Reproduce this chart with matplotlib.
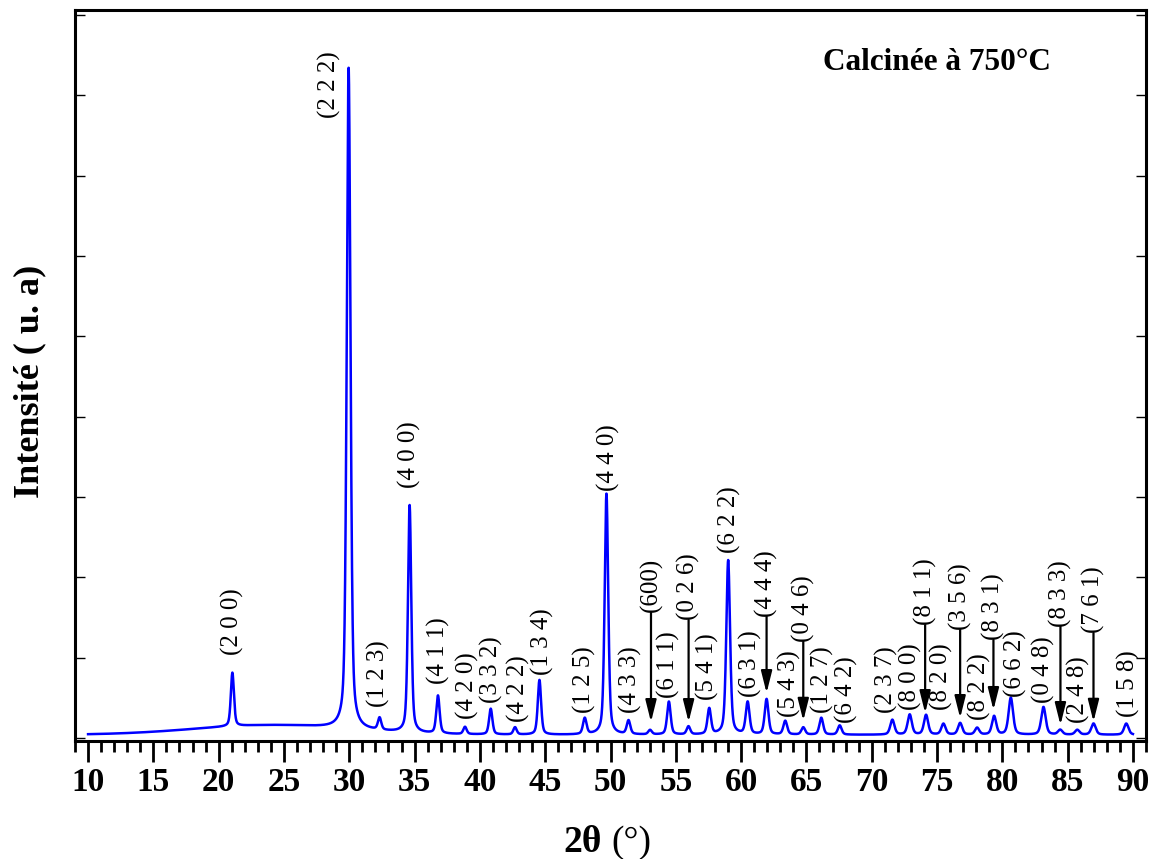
import numpy as np
import matplotlib
matplotlib.use("Agg")
import matplotlib.pyplot as plt
from matplotlib.ticker import MultipleLocator

# ---------------- data ----------------
# Bragg peaks: position (2theta, deg), net intensity (counts), FWHM (deg)
peak_pos = [21.05, 29.95, 32.32, 34.62, 36.79, 38.86, 40.83, 42.69, 44.56,
            48.03, 49.69, 51.38, 53.03, 54.47, 55.97, 57.56, 59.01, 60.50,
            61.95, 63.38, 64.76, 66.14, 67.55, 71.58, 72.91, 74.16, 75.49,
            76.77, 78.07, 79.37, 80.65, 83.15, 84.43, 85.74, 86.98, 89.49]
peak_int = [667, 8230, 150, 2830, 470, 90, 320, 90, 680,
            200, 3000, 170, 55, 410, 100, 320, 2170, 400,
            440, 170, 90, 210, 115, 185, 250, 245, 135,
            145, 85, 230, 460, 345, 60, 60, 140, 140]
peak_fwhm = [0.28, 0.34, 0.30, 0.30, 0.30, 0.30, 0.30, 0.30, 0.30,
             0.32, 0.32, 0.32, 0.32, 0.32, 0.32, 0.32, 0.34, 0.34,
             0.34, 0.34, 0.34, 0.34, 0.34, 0.38, 0.38, 0.38, 0.38,
             0.38, 0.38, 0.38, 0.40, 0.40, 0.40, 0.40, 0.40, 0.40]
# background: flat level + broad amorphous hump (center, height, width)
bg_level = 40
hump_center, hump_height, hump_width = 24.0, 120, 14.0

# Miller-index annotations: label, x (2theta), text-bottom intensity, arrow tip (None = no arrow)
hkl_labels = ["(2 0 0)", "(2 2 2)", "(1 2 3)", "(4 0 0)", "(4 1 1)", "(4 2 0)", "(3 3 2)",
              "(4 2 2)", "(1 3 4)", "(1 2 5)", "(4 4 0)", "(4 3 3)", "(600)", "(6 1 1)",
              "(0 2 6)", "(5 4 1)", "(6 2 2)", "(6 3 1)", "(4 4 4)", "(5 4 3)", "(0 4 6)",
              "(1 2 7)", "(6 4 2)", "(2 3 7)", "(8 0 0)", "(8 1 1)", "(8 2 0)", "(3 5 6)",
              "(8 2 2)", "(8 3 1)", "(6 6 2)", "(0 4 8)", "(8 3 3)", "(2 4 8)", "(7 6 1)",
              "(1 5 8)"]
hkl_x = [21.08, 28.51, 32.24, 34.64, 36.82, 39.04, 40.90, 42.97, 44.79, 48.03, 49.85,
         51.56, 53.10, 54.47, 55.98, 57.43, 59.10, 60.70, 61.95, 63.69, 64.76, 66.19,
         68.03, 71.09, 72.96, 74.09, 75.36, 76.77, 78.25, 79.32, 81.00, 83.18, 84.45,
         85.86, 86.98, 89.62]
hkl_y = [1033, 7715, 390, 3109, 672, 237, 439, 199, 784, 311, 3079, 311, 1569, 498,
         1469, 473, 2300, 514, 1510, 265, 1199, 311, 187, 308, 349, 1407, 349, 1345,
         224, 1220, 514, 432, 1386, 183, 1307, 265]
hkl_tip = [None, None, None, None, None, None, None, None, None, None, None, None, 199,
           None, 199, None, None, None, 560, None, 215, None, None, None, None, 311,
           None, 249, None, 349, None, None, 162, None, 203, None]

# ---------------- build pattern ----------------
tt = np.arange(10.0, 90.001, 0.01)
y = bg_level + hump_height * np.exp(-4 * np.log(2) * ((tt - hump_center) / hump_width) ** 2)
eta = 0.45
for p, a, w in zip(peak_pos, peak_int, peak_fwhm):
    d = (tt - p) / w
    g = np.exp(-4 * np.log(2) * d ** 2)
    l = 1.0 / (1.0 + 4 * d ** 2)
    y = y + a * (eta * l + (1 - eta) * g)

# ---------------- figure ----------------
plt.rcParams['font.family'] = ['Liberation Serif', 'DejaVu Serif']
fig = plt.figure(figsize=(11.51, 8.59), dpi=100)
ax = fig.add_axes([75 / 1151, 118 / 859, 1071 / 1151, 731 / 859])

ax.plot(tt, y, color='#0000ff', lw=1.8)

ax.set_xlim(9, 91)
ax.set_ylim(-37, 9064)
ax.xaxis.set_major_locator(MultipleLocator(5))
ax.xaxis.set_minor_locator(MultipleLocator(1))
ax.yaxis.set_major_locator(MultipleLocator(1000))
ax.tick_params(axis='x', which='major', direction='out', length=15, width=2,
               labelsize=24, pad=4, top=False)
ax.tick_params(axis='x', which='minor', direction='out', length=8, width=2, top=False)
ax.tick_params(axis='y', which='major', direction='in', length=7, width=1,
               left=True, right=True, labelleft=False)
for lab in ax.get_xticklabels():
    lab.set_fontweight('bold')
for s in ax.spines.values():
    s.set_linewidth(2.2)

for lab, x, yb, tip in zip(hkl_labels, hkl_x, hkl_y, hkl_tip):
    ax.text(x, yb, lab, rotation=90, ha='center', va='bottom', fontsize=18)
    if tip is not None:
        ax.annotate('', xy=(x, tip), xytext=(x, yb),
                    arrowprops=dict(arrowstyle='-|>,head_length=0.6,head_width=0.15',
                                    color='black', lw=1.6,
                                    mutation_scale=22, shrinkA=0, shrinkB=0))

fig.text(823 / 1151, 1 - 63 / 859, 'Calcinée à 750°C', fontsize=22.5, fontweight='bold',
         ha='left', va='center')

fig.text(602 / 1151, 7 / 859, '2θ', fontsize=27, fontweight='bold', ha='right', va='baseline')
fig.text(611 / 1151, 7 / 859, '(°)', fontsize=27, ha='left', va='baseline')
fig.text(30 / 1151, 1 - 381 / 859, 'Intensité ( u. a)', fontsize=26, fontweight='bold',
         rotation=90, ha='center', va='center')

fig.savefig('out.png', dpi=100)
